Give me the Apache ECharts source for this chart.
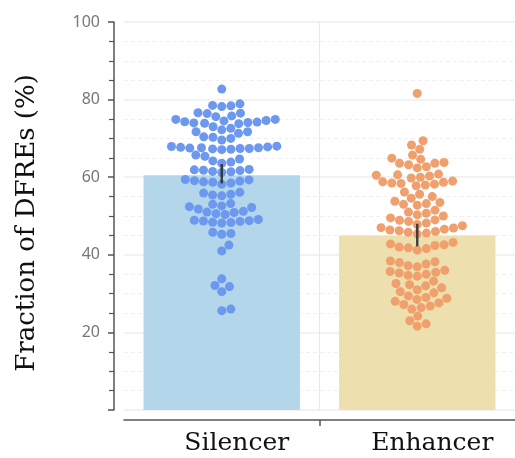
<!DOCTYPE html>
<html>
<head>
<meta charset="utf-8">
<script src="https://cdn.jsdelivr.net/npm/echarts@6/dist/echarts.min.js"></script>
<style>
html,body{margin:0;padding:0;background:#fff;}
#chart{width:515px;height:458px;}
</style>
</head>
<body>
<div id="chart"></div>
<script>
// ---- data ----
const categories = ['Silencer', 'Enhancer'];
const barValues = [60.5, 45.0];
const errLow = [58.4, 42.2];
const errHigh = [63.4, 48.0];
const yTickLabels = [20, 40, 60, 80, 100];
const separatorAt = [0.5];

const silencerDots = [
  82.7,
  78.9, 78.4, 78.2, 78.5,
  76.6, 76.4, 75.8, 75.6, 76.5,
  74.9, 74.3, 74.0, 74.5, 73.8, 74.2, 74.9, 73.9, 74.1, 74.6,
  72.6, 73.0, 71.7, 71.3, 71.7, 72.2,
  70.4, 70.3, 69.6, 70.0,
  67.6, 67.8, 67.4, 67.2, 67.5, 67.3, 67.9, 68.0, 67.4, 67.6, 67.7, 67.1,
  65.7, 65.4, 64.7, 64.2, 63.6, 63.9,
  61.9, 61.7, 61.5, 61.2, 61.8, 61.4, 62.0,
  59.3, 59.0, 58.8, 58.5, 58.2, 59.1, 58.7, 59.4,
  55.9, 55.4, 55.2, 55.6, 56.1,
  53.0, 52.6, 52.2, 51.8, 53.2, 52.4,
  51.2, 50.9, 50.6, 51.0, 50.4,
  48.9, 48.6, 48.3, 48.8, 49.1, 48.4, 48.7, 48.2,
  45.8, 45.5, 45.3,
  42.5, 41.0,
  33.8, 32.1, 31.8, 30.5,
  26.0, 25.6
];

const enhancerDots = [
  81.6,
  69.4, 68.3, 67.2, 65.7, 64.9, 64.6,
  63.8, 63.6, 63.6, 63.2, 62.7, 62.4,
  60.8, 60.5, 60.3, 60.0, 60.6, 59.8,
  59.0, 58.8, 58.5, 58.2, 58.0, 58.7, 57.8, 58.4,
  56.2, 55.6, 55.0, 54.6,
  53.8, 53.5, 53.2, 53.0, 52.8,
  51.5, 51.0, 50.7, 50.3, 50.0,
  49.5, 49.0, 48.6, 48.2, 47.8, 48.9, 47.5,
  47.0, 46.6, 46.2, 46.0, 45.8, 45.6, 45.4, 46.4, 46.9,
  43.2, 42.8, 42.4, 42.0, 41.6, 41.2, 42.6, 41.8,
  38.4, 38.0, 37.6, 37.2, 36.9, 38.2,
  36.0, 35.7, 35.3, 35.0, 34.7, 34.5, 35.5,
  33.2, 32.6, 32.0, 31.5, 31.0, 30.5, 30.2, 32.3,
  29.4, 29.0, 28.5, 28.0, 27.6, 27.2, 26.8, 26.4, 26.0, 28.8,
  24.2, 23.0, 22.2, 21.6
];

const barColors = ['#b3d6ea', '#eedfae'];
const dotColors = ['#6c98ef', '#f0a06c'];

// ---- chart ----
const chart = echarts.init(document.getElementById('chart'), null, {renderer: 'canvas'});
const serif = 'DejaVu Serif';

const option = {
  animation: false,
  grid: {left: 124, right: 0, top: 22, bottom: 48, containLabel: false},
  xAxis: [{
    type: 'category',
    data: categories,
    offset: 10,
    boundaryGap: true,
    axisLine: {show: true, onZero: false, lineStyle: {color: '#555', width: 1.5}},
    axisTick: {show: false},
    axisLabel: {fontFamily: serif, fontSize: 25, color: '#111', margin: 11, padding: [0, 0, 0, 30]},
    splitLine: {show: false}
  }, {
    type: 'value',
    min: -0.5, max: 1.5,
    position: 'bottom',
    offset: 10,
    axisLine: {show: false, onZero: false},
    axisTick: {show: true, length: 6, customValues: separatorAt, lineStyle: {color: '#555', width: 1.5}},
    axisLabel: {show: false},
    splitLine: {show: false}
  }],
  yAxis: {
    type: 'value',
    min: 0, max: 100, interval: 20,
    offset: 10,
    axisLine: {show: true, onZero: false, lineStyle: {color: '#555', width: 1.5}},
    axisTick: {show: true, length: 6, lineStyle: {color: '#555', width: 1.5}},
    minorTick: {show: true, splitNumber: 4, length: 5, lineStyle: {color: '#555', width: 1.2}},
    axisLabel: {
      fontFamily: 'Noto Sans', fontSize: 16, color: '#777', margin: 14,
      formatter: function (v) { return yTickLabels.indexOf(v) >= 0 ? String(v) : ''; }
    },
    splitLine: {show: true, lineStyle: {color: '#eeeeee', width: 1.5}},
    minorSplitLine: {show: true, lineStyle: {color: '#f0f0f0', width: 1.2, type: [4, 3]}},
    name: 'Fraction of DFREs (%)',
    nameLocation: 'middle',
    nameGap: 74,
    nameRotate: 90,
    nameTextStyle: {fontFamily: serif, fontSize: 26, color: '#111', padding: [0, 14, 0, 0]}
  },
  series: [{
    type: 'bar',
    xAxisIndex: 0,
    barCategoryGap: '20%',
    data: barValues.map((v, i) => ({value: v, itemStyle: {color: barColors[i]}})),
    z: 2
  }]
};
chart.setOption(option);

// beeswarm layout (deterministic, seaborn-like)
function swarm(values, d, toPy) {
  const pts = values.map(v => ({v: v, y: toPy(v), x: 0})).sort((a, b) => a.v - b.v);
  const placed = [];
  pts.forEach(p => {
    const cands = [0];
    placed.forEach(q => {
      const dy = p.y - q.y;
      if (Math.abs(dy) < d) {
        const dx = Math.sqrt(d * d - dy * dy);
        cands.push(q.x + dx, q.x - dx);
      }
    });
    cands.sort((a, b) => Math.abs(a) - Math.abs(b));
    let chosen = 0;
    for (const c of cands) {
      let ok = true;
      for (const q of placed) {
        const dx = c - q.x, dy = p.y - q.y;
        if (dx * dx + dy * dy < d * d - 1e-6) { ok = false; break; }
      }
      if (ok) { chosen = c; break; }
    }
    p.x = chosen;
    placed.push(p);
  });
  return pts;
}

const toPy = v => chart.convertToPixel({yAxisIndex: 0}, v);
const dotSize = 9;
const spacing = 9.2;
const groups = [silencerDots, enhancerDots];
const scatterSeries = groups.map((vals, gi) => {
  const cx = chart.convertToPixel({xAxisIndex: 1}, gi);
  const pts = swarm(vals, spacing, toPy);
  return {
    type: 'scatter',
    xAxisIndex: 1,
    symbolSize: dotSize,
    itemStyle: {color: dotColors[gi], opacity: 1},
    data: pts.map(p => [chart.convertFromPixel({xAxisIndex: 1}, cx + p.x), p.v]),
    z: 3
  };
});

// faint vertical separator between the categories
scatterSeries[0].markLine = {
  silent: true,
  symbol: 'none',
  label: {show: false},
  lineStyle: {color: '#e8e8e8', width: 1, type: 'solid'},
  z: 1,
  data: separatorAt.map(x => ({xAxis: x}))
};

const errSeries = {
  type: 'custom',
  xAxisIndex: 0,
  z: 5,
  data: categories.map((c, i) => [i, errLow[i], errHigh[i]]),
  renderItem: function (params, api) {
    const lo = api.coord([api.value(0), api.value(1)]);
    const hi = api.coord([api.value(0), api.value(2)]);
    return {
      type: 'line',
      shape: {x1: lo[0], y1: lo[1], x2: hi[0], y2: hi[1]},
      style: {stroke: 'rgba(40,40,40,0.85)', lineWidth: 2.5}
    };
  }
};

chart.setOption({series: [option.series[0]].concat(scatterSeries, [errSeries])});
</script>
</body>
</html>
